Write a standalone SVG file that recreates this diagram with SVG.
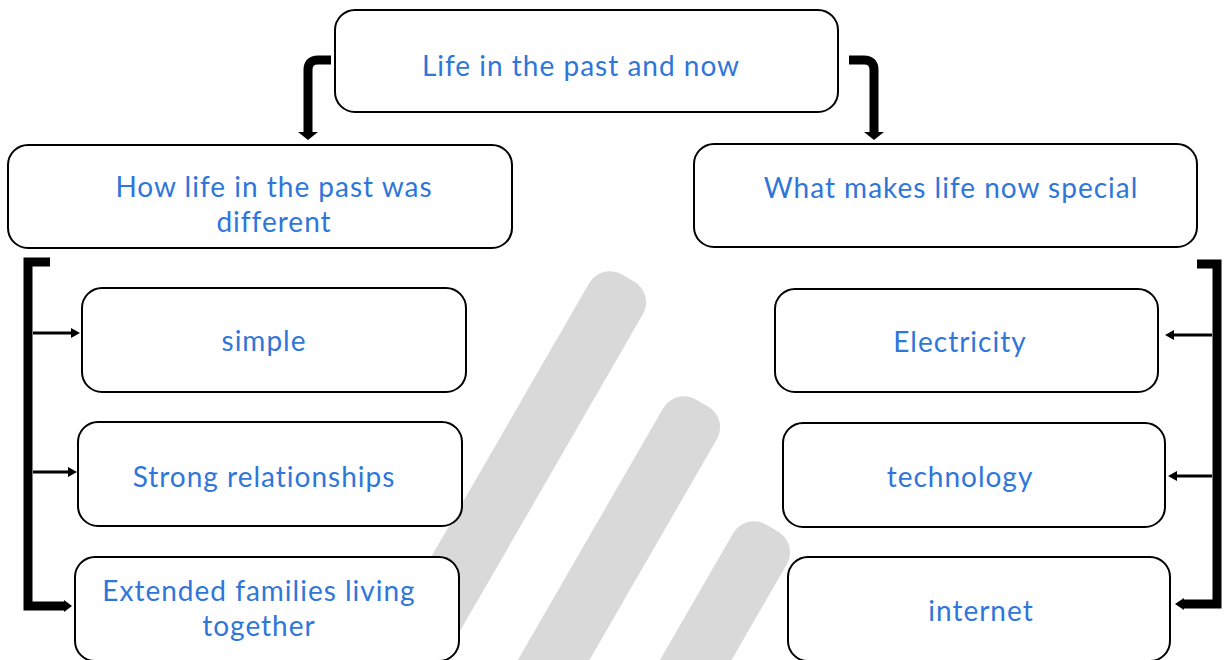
<svg xmlns="http://www.w3.org/2000/svg" width="1224" height="660" viewBox="0 0 1224 660">
<defs>
<style>
.box{fill:#fff;stroke:#000;stroke-width:2}
.t{font-family:Lato,"Open Sans","Noto Sans",sans-serif;font-size:28px;letter-spacing:1px;fill:#2F76DA;text-anchor:middle}
.thick{fill:none;stroke:#000;stroke-width:9;stroke-linejoin:miter}
.thin{fill:none;stroke:#000;stroke-width:3}
.wm{fill:#d9d9d9}
</style>
</defs>
<rect width="1224" height="660" fill="#fff"/>
<g id="watermark">
<rect class="wm" x="-31" y="0" width="62" height="520" rx="24" transform="translate(628,278) rotate(30)"/>
<rect class="wm" x="-31" y="0" width="62" height="400" rx="24" transform="translate(702,403) rotate(30)"/>
<rect class="wm" x="-31" y="0" width="62" height="300" rx="24" transform="translate(772,528) rotate(30)"/>
</g>
<g id="connectors">
<path class="thick" d="M331,60 H318 Q308,60 308,70 V133"/>
<polygon points="298,132 318,132 308,140"/>
<path class="thick" d="M849,60 H864 Q874,60 874,70 V133"/>
<polygon points="864,132 884,132 874,140"/>
<path class="thick" d="M50,262 H28 V606 H65"/>
<polygon points="64,600 72,606 64,612"/>
<path class="thin" d="M33,333 H72"/>
<polygon points="71,328 80,333 71,338"/>
<path class="thin" d="M33,472 H69"/>
<polygon points="68,467 77,472 68,477"/>
<path class="thick" d="M1197,264 H1217 V604 H1183"/>
<polygon points="1184,598 1175,604 1184,610"/>
<path class="thin" d="M1212,335 H1173"/>
<polygon points="1174,330 1165,335 1174,340"/>
<path class="thin" d="M1212,476 H1176"/>
<polygon points="1177,471 1168,476 1177,481"/>
</g>
<g id="root">
<rect class="box" x="335" y="10" width="503" height="102" rx="20"/>
<text class="t" x="581" y="76">Life in the past and now</text>
</g>
<g id="past">
<rect class="box" x="8" y="145" width="504" height="103" rx="20"/>
<text class="t" x="274" y="197">How life in the past was</text>
<text class="t" x="274" y="232">different</text>
</g>
<g id="now">
<rect class="box" x="694" y="144" width="503" height="103" rx="20"/>
<text class="t" x="951" y="198">What makes life now special</text>
</g>
<g id="simple">
<rect class="box" x="82" y="288" width="384" height="104" rx="20"/>
<text class="t" x="264" y="351">simple</text>
</g>
<g id="relationships">
<rect class="box" x="78" y="422" width="384" height="104" rx="20"/>
<text class="t" x="264" y="487">Strong relationships</text>
</g>
<g id="families">
<rect class="box" x="75" y="557" width="384" height="104" rx="20"/>
<text class="t" x="259" y="601">Extended families living</text>
<text class="t" x="259" y="636">together</text>
</g>
<g id="electricity">
<rect class="box" x="775" y="289" width="383" height="103" rx="20"/>
<text class="t" x="960" y="352">Electricity</text>
</g>
<g id="technology">
<rect class="box" x="783" y="423" width="382" height="104" rx="20"/>
<text class="t" x="960" y="487">technology</text>
</g>
<g id="internet">
<rect class="box" x="788" y="557" width="382" height="104" rx="20"/>
<text class="t" x="981" y="621">internet</text>
</g>
</svg>
